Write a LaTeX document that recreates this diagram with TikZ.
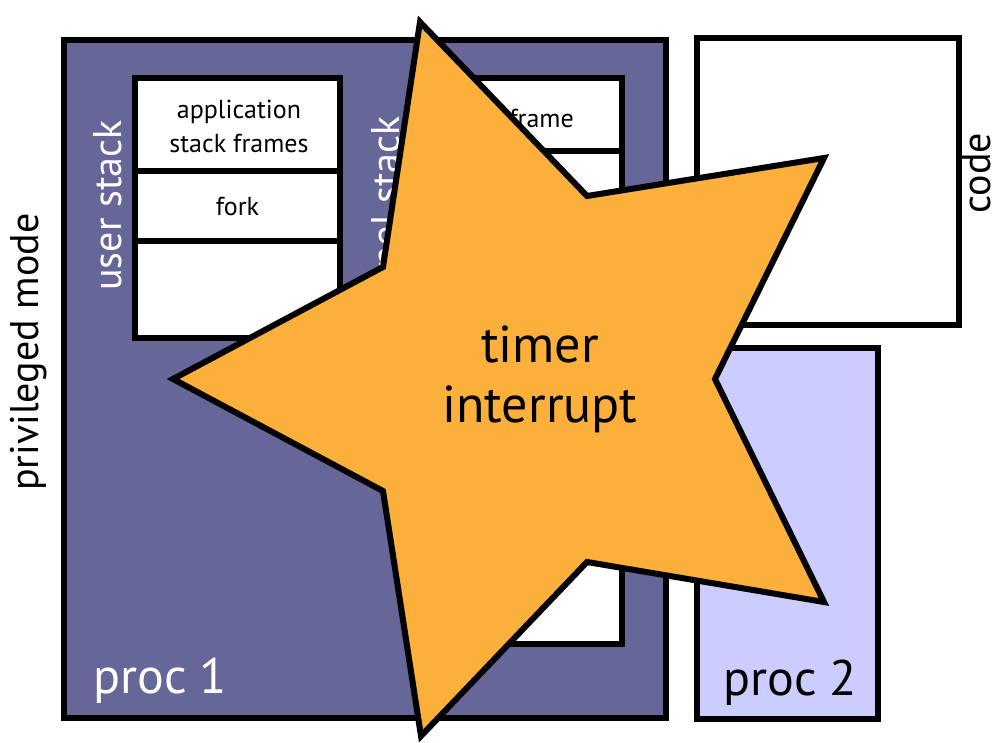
\documentclass[tikz,border=0pt]{standalone}
\usepackage{fontspec}
\setmainfont{PT Sans}
\definecolor{procone}{HTML}{666699}
\definecolor{proctwo}{HTML}{CCCCFF}
\definecolor{starfill}{HTML}{FBB03B}
\tikzset{
  box/.style={draw=black, line width=6pt},
  sidelabel/.style={rotate=90, inner sep=0pt, anchor=base, font=\fontsize{40}{48}\selectfont},
  framelabel/.style={inner sep=0pt, anchor=base, font=\fontsize{26}{34}\selectfont},
  proclabel/.style={inner sep=0pt, anchor=base west, font=\fontsize{50}{60}\selectfont}
}
\begin{document}
\begin{tikzpicture}[x=1pt,y=-1pt]
        \useasboundingbox (0,0) rectangle (1001,742);
        % proc 1
        \draw[box, fill=procone] (63.5,40) rectangle (665.5,717.5);
        \node[proclabel, text=white] (proc1) at (93,693) {proc 1};
        % user stack
        \draw[box, fill=white] (135,77.5) rectangle (340,338);
        \draw[box] (135,170.5) -- (340,170.5);
        \draw[box] (135,241) -- (340,241);
        \node[sidelabel, anchor=base east, text=white] (userstack) at (121,120) {user stack};
        \node[framelabel, align=center] (appframes) at (239,152) {application\\stack frames};
        \node[framelabel] (fork) at (237.5,215) {fork};
        % kernel stack
        \draw[box, fill=white] (415,77.5) rectangle (622,643.5);
        \draw[box] (415,151) -- (622,151);
        \node[sidelabel, anchor=base east, text=white] (kernstack) at (399,116) {kernel stack};
        \node[framelabel, anchor=base east] (trapframe) at (574,127) {trap frame};
        % code
        \draw[box, fill=white] (697,37.5) rectangle (959,325);
        \node[sidelabel] (code) at (990,173) {code};
        % proc 2
        \draw[box, fill=proctwo] (697,348) rectangle (878,719);
        \node[proclabel] (proc2) at (723,695) {proc 2};
        % privileged mode
        \node[sidelabel] (privmode) at (38,352) {privileged mode};
        % timer interrupt
        \draw[box, fill=starfill] (420,22) -- (587,196) -- (824,158) -- (715,379) -- (824,602)
          -- (587,562) -- (421,736) -- (383,491) -- (173,379) -- (383,267) -- cycle;
        \node[inner sep=0pt, anchor=base, align=center, font=\fontsize{52}{60}\selectfont] (timer) at (540,422) {timer\\interrupt};
\end{tikzpicture}
\end{document}
